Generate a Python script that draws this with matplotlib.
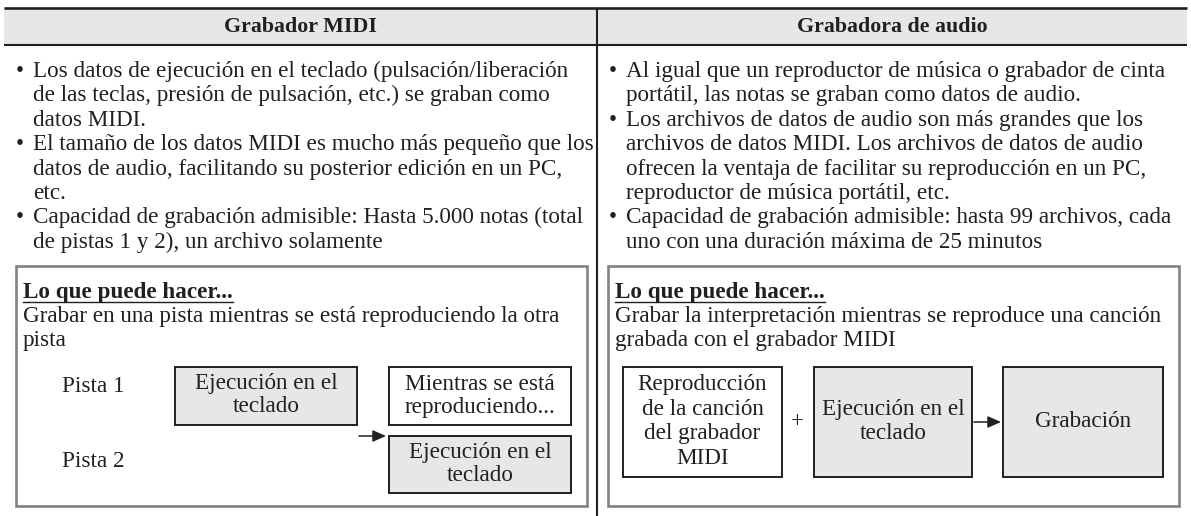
import matplotlib
matplotlib.use("Agg")
import matplotlib.pyplot as plt
from matplotlib.patches import Rectangle, FancyArrowPatch

# ---------------- content ----------------
headers = ["Grabador MIDI", "Grabadora de audio"]

midi_lines = [
    ("•", "Los datos de ejecución en el teclado (pulsación/liberación"),
    ("", "de las teclas, presión de pulsación, etc.) se graban como"),
    ("", "datos MIDI."),
    ("•", "El tamaño de los datos MIDI es mucho más pequeño que los"),
    ("", "datos de audio, facilitando su posterior edición en un PC,"),
    ("", "etc."),
    ("•", "Capacidad de grabación admisible: Hasta 5.000 notas (total"),
    ("", "de pistas 1 y 2), un archivo solamente"),
]
audio_lines = [
    ("•", "Al igual que un reproductor de música o grabador de cinta"),
    ("", "portátil, las notas se graban como datos de audio."),
    ("•", "Los archivos de datos de audio son más grandes que los"),
    ("", "archivos de datos MIDI. Los archivos de datos de audio"),
    ("", "ofrecen la ventaja de facilitar su reproducción en un PC,"),
    ("", "reproductor de música portátil, etc."),
    ("•", "Capacidad de grabación admisible: hasta 99 archivos, cada"),
    ("", "uno con una duración máxima de 25 minutos"),
]
can_do_title = "Lo que puede hacer..."
midi_can_do = ["Grabar en una pista mientras se está reproduciendo la otra", "pista"]
audio_can_do = ["Grabar la interpretación mientras se reproduce una canción",
                "grabada con el grabador MIDI"]
track_labels = ["Pista 1", "Pista 2"]
midi_boxes = [["Ejecución en el", "teclado"],
              ["Mientras se está", "reproduciendo..."],
              ["Ejecución en el", "teclado"]]
midi_box_fill = [True, False, True]
audio_boxes = [["Reproducción", "de la canción", "del grabador", "MIDI"],
               ["Ejecución en el", "teclado"],
               ["Grabación"]]
audio_box_fill = [False, True, True]

# ---------------- style ----------------
INK = "#231f20"
GRAY = "#e6e7e8"
FRAME = "#808285"
FONT = ["Liberation Serif", "DejaVu Serif"]

W, H = 1191, 516
fig = plt.figure(figsize=(W / 100, H / 100), dpi=100)
ax = fig.add_axes([0, 0, 1, 1])
ax.set_xlim(0, W)
ax.set_ylim(H, 0)
ax.axis("off")

fig.canvas.draw()
R = fig.canvas.get_renderer()
_t = ax.text(0, 0, audio_can_do[0], fontsize=10, family=FONT)
_w = _t.get_window_extent(R).width
_t.remove()
FS = 10 * 546 / _w


def txt(x, y, s, ha="left", size=None, **kw):
    return ax.text(x, y, s, fontsize=size or FS, family=FONT, color=INK, ha=ha,
                   va="baseline", **kw)


# ---------------- table frame ----------------
ax.add_patch(Rectangle((4, 8), 1183, 37, facecolor=GRAY, edgecolor="none"))
ax.plot([4, 1187], [8, 8], color=INK, lw=1.9, solid_capstyle="butt")
ax.plot([4, 1187], [45, 45], color=INK, lw=1.5, solid_capstyle="butt")
ax.plot([597, 597], [8, 516], color=INK, lw=1.5, solid_capstyle="butt")

col_left = [4, 597]
col_right = [597, 1187]
for i, h in enumerate(headers):
    txt((col_left[i] + col_right[i]) / 2, 32, h, ha="center", fontweight="bold",
        size=FS * 0.95)

# ---------------- bullet text ----------------
base0 = 77
step = 24.4
for lines, x0 in ((midi_lines, 4), (audio_lines, 597)):
    for k, (b, s) in enumerate(lines):
        y = base0 + k * step
        if b:
            txt(x0 + 16, y, b, ha="center")
        txt(x0 + 29, y, s)

# ---------------- inner frames ----------------
frames = [(16, 587), (608, 1179)]
for (l, r), body in zip(frames, (midi_can_do, audio_can_do)):
    ax.add_patch(Rectangle((l, 266), r - l, 240, facecolor="none",
                           edgecolor=FRAME, lw=1.9))
    t = txt(l + 7, 298, can_do_title, fontweight="bold")
    fig.canvas.draw()
    bb = t.get_window_extent(R)
    ax.plot([l + 7, l + 7 + bb.width], [302, 302], color=INK, lw=1.0)
    for k, s in enumerate(body):
        txt(l + 7, 322 + k * 24, s)


def box(x0, x1, y0, y1, lines, fill, line_step=24.5):
    ax.add_patch(Rectangle((x0, y0), x1 - x0, y1 - y0,
                           facecolor=GRAY if fill else "white",
                           edgecolor=INK, lw=1.4))
    cy = (y0 + y1) / 2
    n = len(lines)
    for k, s in enumerate(lines):
        yc = cy + (k - (n - 1) / 2) * line_step
        txt((x0 + x1) / 2, yc + 5, s, ha="center")


# ---------------- MIDI diagram ----------------
midi_geo = [(175, 357, 367, 425), (389, 571, 367, 425), (389, 571, 436, 493)]
for g, lines, f in zip(midi_geo, midi_boxes, midi_box_fill):
    box(*g, lines, f, line_step=23)
txt(93, 392, track_labels[0], ha="center")
txt(93, 467, track_labels[1], ha="center")
ax.add_patch(FancyArrowPatch((359, 436), (386, 436), arrowstyle="-|>,head_length=5,head_width=2.2",
                             color=INK, lw=1.1, mutation_scale=1.6, shrinkA=0, shrinkB=0))

# ---------------- audio diagram ----------------
audio_geo = [(623, 782, 367, 477), (814, 972, 367, 477), (1003, 1163, 367, 477)]
for g, lines, f in zip(audio_geo, audio_boxes, audio_box_fill):
    box(*g, lines, f)
txt(797, 427, "+", ha="center")
ax.add_patch(FancyArrowPatch((974, 422), (1001, 422), arrowstyle="-|>,head_length=5,head_width=2.2",
                             color=INK, lw=1.1, mutation_scale=1.6, shrinkA=0, shrinkB=0))

fig.savefig("out.png", dpi=100)
